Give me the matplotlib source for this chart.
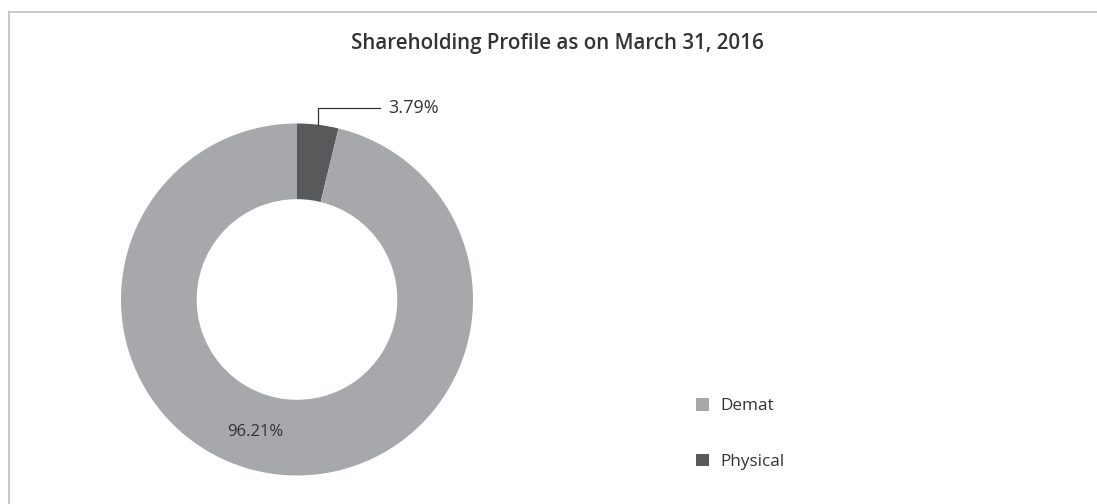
import numpy as np
import matplotlib.pyplot as plt
from matplotlib.lines import Line2D
from matplotlib.patches import Patch

plt.rcParams['font.family'] = ['Open Sans', 'DejaVu Sans']

categories = ['Demat', 'Physical']
shares = [96.21, 3.79]
colors = ['#a6a8ab', '#58595b']
title = 'Shareholding Profile as on March 31, 2016'

W, H = 1097, 504
fig = plt.figure(figsize=(W / 100, H / 100), dpi=100)

# donut axes, placed in pixels
cx, cy, r = 297, 504 - 299.5, 176
ax = fig.add_axes([(cx - r) / W, (cy - r) / H, 2 * r / W, 2 * r / H])

# draw Physical first so it starts at 12 o'clock going clockwise
wedges, _ = ax.pie(shares[::-1], colors=colors[::-1], startangle=90,
                   counterclock=False, radius=1,
                   wedgeprops=dict(width=0.43, linewidth=0))
ax.set_xlim(-1, 1)
ax.set_ylim(-1, 1)
ax.set_aspect('equal')
ax.axis('off')

# leader line for the small slice
w = wedges[0]
mid = np.deg2rad((w.theta1 + w.theta2) / 2)
x0, y0 = np.cos(mid), np.sin(mid)
ax.plot([x0, x0, x0 + 0.35], [y0, 1.09, 1.09], color='#333333', lw=0.9,
        clip_on=False)
ax.text(x0 + 0.40, 1.09, f'{shares[1]:.2f}%', ha='left', va='center',
        fontsize=13, color='#333333')
ax.text(-0.24, -0.75, f'{shares[0]:.2f}%', ha='center', va='center',
        fontsize=12, color='#333333')

fig.text(557 / W, 1 - 43 / H, title, ha='center', va='center',
         fontsize=14.8, fontweight='semibold', color='#333333')

handles = [Patch(facecolor=c, edgecolor='none') for c in colors]
fig.legend(handles, categories, loc='upper left',
           bbox_to_anchor=(696 / W, 1 - 398 / H), frameon=False,
           fontsize=12.3, labelcolor='#333333', handlelength=0.75,
           handleheight=0.75, handletextpad=0.7, labelspacing=2.3,
           borderpad=0, borderaxespad=0)

# frame lines at top and left
fig.add_artist(Line2D([9 / W, 1], [1 - 11.5 / H, 1 - 11.5 / H],
                      color='#bfbfbf', lw=1.2))
fig.add_artist(Line2D([9 / W, 9 / W], [0, 1 - 11.5 / H],
                      color='#bfbfbf', lw=1.2))

fig.savefig('out.png', dpi=100)
